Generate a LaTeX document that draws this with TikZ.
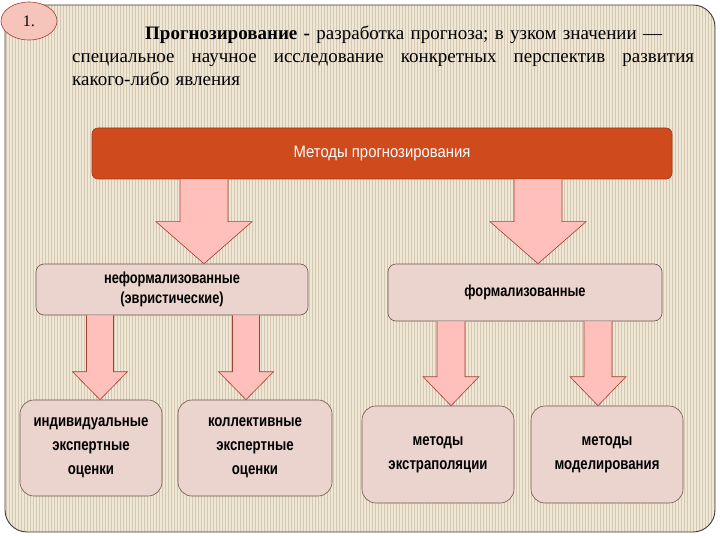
\documentclass[tikz,border=0pt]{standalone}
\usepackage{fontspec}
\setmainfont{Liberation Serif}
\newfontfamily\boxfont{Liberation Sans}[FakeStretch=0.9]
\newfontfamily\boxfontbf{Liberation Sans Bold}[FakeStretch=0.8]
\usepackage{tikz}
\definecolor{framefill}{RGB}{239, 231, 214}
\definecolor{stripe}{RGB}{214, 200, 176}
\definecolor{framedraw}{RGB}{60, 60, 60}
\definecolor{headfill}{RGB}{207, 74, 28}
\definecolor{headdraw}{RGB}{160, 56, 20}
\definecolor{boxfill}{RGB}{235, 212, 206}
\definecolor{boxdraw}{RGB}{110, 85, 72}
\definecolor{arrowfill}{RGB}{255, 192, 188}
\definecolor{arrowline}{RGB}{160, 64, 47}
\definecolor{badgefill}{RGB}{246, 196, 187}
\usetikzlibrary{shapes.geometric, arrows.meta, positioning, calc}

% block arrow between two nodes: from, to, x, half shaft, half head, head length
\newcommand{\fatarrow}[6]{%
  \path (#3,0 |- #1.south) coordinate (fa-s) (#3,0 |- #2.north) coordinate (fa-t);
  \draw[fatarrow] ($(fa-s)+(-#4,0)$) -- ($(fa-t)+(-#4,-#6)$) -- ($(fa-t)+(-#5,-#6)$) -- (fa-t)
    -- ($(fa-t)+(#5,-#6)$) -- ($(fa-t)+(#4,-#6)$) -- ($(fa-s)+(#4,0)$);
}

\begin{document}
\begin{tikzpicture}[
    x=1pt, y=-1pt,
    headbox/.style={draw=headdraw, fill=headfill, line width=0.6pt, rounded corners=6pt,
                    text=white, font=\boxfont\fontsize{16.5}{18}\selectfont, inner sep=0pt},
    midbox/.style={draw=boxdraw, fill=boxfill, line width=0.6pt, rounded corners=8pt,
                   align=center, font=\boxfontbf\fontsize{16}{20}\selectfont, inner sep=0pt},
    leafbox/.style={draw=boxdraw, fill=boxfill, line width=0.6pt, rounded corners=14pt,
                    align=center, font=\boxfontbf\fontsize{16.5}{24}\selectfont, inner sep=0pt,
                    minimum height=96pt},
    fatarrow/.style={draw=arrowline, fill=arrowfill, line width=0.6pt, line join=miter}
]
    \useasboundingbox (0,0) rectangle (720,540);

    % background panel
    \fill[framefill, rounded corners=22pt] (5,5) rectangle (715,532);
    \begin{scope}
        \clip[rounded corners=22pt] (5,5) rectangle (715,532);
        \foreach \sx in {6,9,...,714}
            \draw[stripe, line width=0.8pt] (\sx,5) -- (\sx,532);
    \end{scope}
    \draw[framedraw, line width=0.9pt, rounded corners=22pt] (5,5) rectangle (715,532);

    \node[ellipse, draw=arrowline, fill=badgefill, line width=0.6pt, minimum width=56pt,
          minimum height=38pt, inner sep=0pt, font=\fontsize{16}{18}\selectfont] (badge) at (29,21) {1.};

    \node[anchor=north west, text width=622pt, align=left, inner sep=0pt,
          font=\fontsize{19}{23}\selectfont] (intro) at (72,26) {%
        \hspace*{73pt}\textbf{Прогнозирование -} разработка прогноза; в узком значении —\\
        \makebox[622pt][l]{специальное\hfill научное\hfill исследование\hfill конкретных\hfill перспектив\hfill развития}\\
        какого-либо явления};

    \node[headbox, minimum width=580pt, minimum height=51pt] (methods) at (382,153.5) {Методы прогнозирования};

    \node[midbox, minimum width=272pt, minimum height=51pt] (informal) at (172,289.5)
        {неформализованные\\(эвристические)};
    \node[midbox, minimum width=274pt, minimum height=57pt] (formal) at (525,292.5) {формализованные};

    \node[leafbox, minimum width=142pt] (individual) at (91,448) {индивидуальные\\экспертные\\оценки};
    \node[leafbox, minimum width=154pt] (collective) at (255,448) {коллективные\\экспертные\\оценки};
    \node[leafbox, minimum width=152pt, minimum height=97pt] (extrapol) at (438,454.5) {методы\\экстраполяции};
    \node[leafbox, minimum width=152pt, minimum height=97pt] (modelling) at (607,454.5) {методы\\моделирования};

    \fatarrow{methods}{informal}{204}{24}{48}{42}
    \fatarrow{methods}{formal}{538}{24}{48}{42}
    \fatarrow{informal}{individual}{100}{13.5}{27.5}{28}
    \fatarrow{informal}{collective}{246}{13.5}{27.5}{28}
    \fatarrow{formal}{extrapol}{451}{14}{28}{29}
    \fatarrow{formal}{modelling}{598}{14}{28}{29}
\end{tikzpicture}
\end{document}
